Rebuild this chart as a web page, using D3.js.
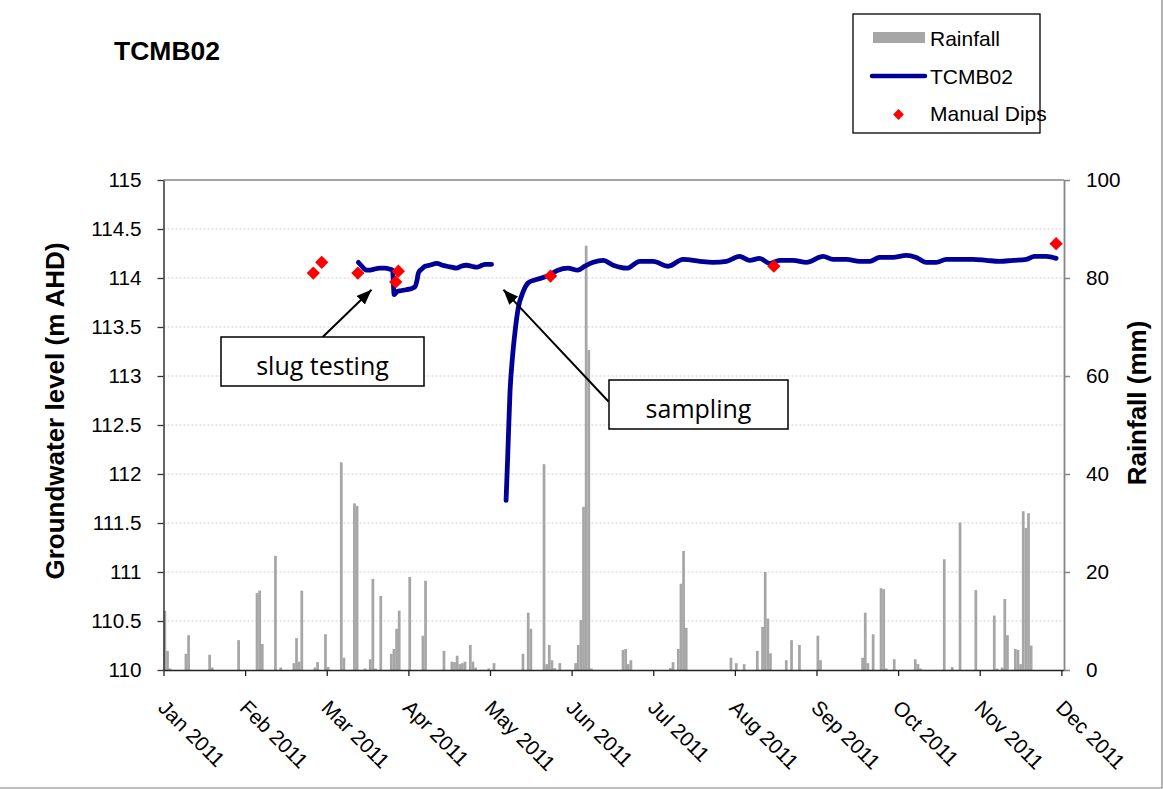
<!DOCTYPE html>
<html>
<head>
<meta charset="utf-8">
<script src="https://cdn.jsdelivr.net/npm/d3@7"></script>
<style>
  body { margin: 0; background: #fff; }
  svg { display: block; font-family: "Liberation Sans", Arial, sans-serif; }
</style>
</head>
<body>
<div id="chart"></div>
<script>

// daily rainfall (day offset from 1 Jan 2011, mm)
var rainDay = [0,1,2,8,9,17,18,28,35,36,37,42,44,49,50,51,52,57,58,61,62,67,68,72,73,76,78,79,80,82,
  86,87,88,89,93,98,99,106,109,110,111,112,113,114,116,117,118,123,125,136,138,139,144,145,146,147,148,150,
  156,157,158,159,160,161,162,174,175,176,177,192,193,195,196,197,198,215,217,220,225,227,228,229,230,
  236,238,241,248,249,265,266,267,269,272,273,274,277,285,286,287,296,299,302,308,315,316,318,319,320,
  323,324,325,326,327,328,329];
var rainMm = [12.1,3.9,0.3,3.3,7.1,3.1,0.5,6.1,15.7,16.2,5.3,23.3,0.5,1.4,6.5,1.7,16.2,0.5,1.6,7.3,0.6,42.4,2.5,34,33.5,0.3,2.2,18.6,0.3,15.1,
  3.3,4.3,8.4,12.1,19,7,18.2,3.9,1.7,1.6,2.9,1.2,1.4,1.7,5.1,1.7,0.5,0.3,1.4,3.3,11.7,8.4,42,1.2,5.1,2.0,0.4,1.4,
  1.4,5.1,10.2,33.3,86.6,65.3,0.3,4.1,4.3,1.2,2.0,0.4,1.6,4.3,17.6,24.3,8.6,2.5,1.4,1.2,3.9,8.8,20,10.5,3.4,
  2.0,6.1,5.1,7.0,2.0,2.5,11.7,1.4,7.3,16.7,16.5,0.3,2.2,2.2,1.2,0.3,22.6,0.6,30.1,16.3,11.1,0.3,0.5,14.5,7.1,
  4.3,4.1,1.2,32.4,29,32,5.0];

// logger record TCMB02, before and after sampling
var level1Day = [74,75,76,77,78,80,82,84,86,87,87.6,88.6,90,92,94,95.5,96.3,96.8,98,99.3,101,103.8,106,107.6,109.5,111.3,113,115.1,117,118.9,121,122.1,124.6];
var level1M = [114.16,114.13,114.10,114.08,114.08,114.09,114.10,114.10,114.09,114.08,113.83,113.86,113.87,113.88,113.89,113.91,113.98,114.05,114.09,114.12,114.13,114.15,114.13,114.12,114.11,114.10,114.12,114.13,114.12,114.11,114.13,114.14,114.14];

var level2Day = [130.1,130.7,131.6,132.5,133.5,134.7,136.6,138.5,141,143.6,146.6,149.8,153.6,157.4,160,163.2,167,170.8,175.9,180.9,
  186,191.7,197.3,203.7,208.7,213.8,218.8,222.6,226.4,230.2,234,239.1,244.2,250.5,254.3,259.4,264.4,268.2,272,277,
  282.1,285.9,289.7,293.5,297.3,302.4,307.4,312.5,317.5,322.6,327.7,330.8,335.3,339];
var level2M = [111.73,112.16,112.84,113.18,113.45,113.69,113.86,113.95,113.98,114.00,114.03,114.08,114.10,114.08,114.12,114.16,114.18,114.13,114.10,114.17,
  114.17,114.12,114.19,114.17,114.16,114.17,114.22,114.18,114.20,114.15,114.18,114.18,114.16,114.22,114.19,114.19,114.17,114.17,114.21,114.21,
  114.23,114.21,114.16,114.16,114.19,114.19,114.19,114.18,114.17,114.18,114.19,114.22,114.22,114.20];

// manual dips
var dipDay = [56.9,60.1,73.8,88.2,89.2,147,231.8,339];
var dipM = [114.05,114.16,114.05,113.96,114.07,114.02,114.12,114.35];

var leftTicks = [110,110.5,111,111.5,112,112.5,113,113.5,114,114.5,115];
var rightTicks = [0,20,40,60,80,100];
var gridTicks = [110.5,111,111.5,112,112.5,113,113.5,114,114.5];
var xTickDays = [0,31,62,93,124,155,186,217,248,279,310,341];

var W = 1163, H = 789;
var plot = { left: 163.5, right: 1064, top: 180, bottom: 670 };

var start = new Date(Date.UTC(2011, 0, 1));
function dayDate(d) { return new Date(start.getTime() + d * 864e5); }

var x = d3.scaleUtc()
    .domain([start, dayDate(342)])
    .range([plot.left, plot.right]);
var yL = d3.scaleLinear().domain([110, 115]).range([plot.bottom, plot.top]);
var yR = d3.scaleLinear().domain([0, 100]).range([plot.bottom, plot.top]);

var svg = d3.select("#chart").append("svg")
    .attr("width", W)
    .attr("height", H);

// chart area border (right / bottom edge of the crop)
svg.append("path")
    .attr("d", "M" + (W - 1) + ",0V" + (H - 1) + "H0")
    .attr("fill", "none").attr("stroke", "#7f7f7f").attr("stroke-width", 1.2);

// title
svg.append("text")
    .attr("x", 114).attr("y", 60)
    .attr("font-size", 26.5).attr("font-weight", "bold")
    .text("TCMB02");

// gridlines
svg.append("g").selectAll("line")
    .data(gridTicks)
    .enter().append("line")
    .attr("x1", plot.left).attr("x2", plot.right)
    .attr("y1", function (d) { return yL(d); })
    .attr("y2", function (d) { return yL(d); })
    .attr("stroke", "#cfcfcf").attr("stroke-width", 1)
    .attr("stroke-dasharray", "2,2");

// top border of the plot area
svg.append("line")
    .attr("x1", plot.left).attr("x2", plot.right)
    .attr("y1", plot.top).attr("y2", plot.top)
    .attr("stroke", "#868686").attr("stroke-width", 1.5);

// rainfall bars
var rain = rainDay.map(function (d, i) { return { day: d, mm: rainMm[i] }; });
svg.append("g").selectAll("rect")
    .data(rain)
    .enter().append("rect")
    .attr("x", function (d) { return x(dayDate(d.day)); })
    .attr("width", function (d) { return x(dayDate(d.day + 1)) - x(dayDate(d.day)) + 0.1; })
    .attr("y", function (d) { return yR(d.mm); })
    .attr("height", function (d) { return yR(0) - yR(d.mm); })
    .attr("fill", "#a6a6a6");

// groundwater level line
var line = d3.line()
    .x(function (d) { return x(dayDate(d[0])); })
    .y(function (d) { return yL(d[1]); })
    .curve(d3.curveMonotoneX);

[[level1Day, level1M], [level2Day, level2M]].forEach(function (s) {
  svg.append("path")
      .datum(s[0].map(function (d, i) { return [d, s[1][i]]; }))
      .attr("d", line)
      .attr("fill", "none")
      .attr("stroke", "#000099")
      .attr("stroke-width", 4.8)
      .attr("stroke-linecap", "round")
      .attr("stroke-linejoin", "round");
});

// manual dips (red diamonds)
var diamond = d3.symbol().type(d3.symbolSquare).size(88);
svg.append("g").selectAll("path")
    .data(dipDay.map(function (d, i) { return [d, dipM[i]]; }))
    .enter().append("path")
    .attr("d", diamond)
    .attr("transform", function (d) { return "translate(" + x(dayDate(d[0])) + "," + yL(d[1]) + ") rotate(45)"; })
    .attr("fill", "#ff0000");

// axes
var fmt = d3.utcFormat("%b %Y");
var xAxis = d3.axisBottom(x)
    .tickValues(xTickDays.map(dayDate))
    .tickFormat(fmt)
    .tickSize(6).tickSizeOuter(0);
var gx = svg.append("g")
    .attr("transform", "translate(0," + plot.bottom + ")")
    .call(xAxis);
gx.select(".domain").attr("stroke", "#222").attr("stroke-width", 1.5);
gx.selectAll(".tick line").attr("stroke", "#222").attr("stroke-width", 1.3);
gx.selectAll("text")
    .attr("x", 0).attr("y", 0).attr("dy", null)
    .attr("text-anchor", "start")
    .attr("transform", "translate(-7,39) rotate(45)")
    .attr("font-size", 20.7)
    .attr("font-family", "Liberation Sans, Arial, sans-serif")
    .attr("fill", "#000");

var yAxisL = d3.axisLeft(yL)
    .tickValues(leftTicks)
    .tickFormat(function (d) { return d; })
    .tickSize(6).tickSizeOuter(0).tickPadding(16);
var gyl = svg.append("g")
    .attr("transform", "translate(" + plot.left + ",0)")
    .call(yAxisL);
gyl.select(".domain").attr("stroke", "#333").attr("stroke-width", 1.5);
gyl.selectAll(".tick line").attr("stroke", "#333").attr("stroke-width", 1.3);
gyl.selectAll("text")
    .attr("font-size", 20.7)
    .attr("font-family", "Liberation Sans, Arial, sans-serif")
    .attr("fill", "#000");

var yAxisR = d3.axisRight(yR)
    .tickValues(rightTicks)
    .tickSize(6).tickSizeOuter(0).tickPadding(16);
var gyr = svg.append("g")
    .attr("transform", "translate(" + plot.right + ",0)")
    .call(yAxisR);
gyr.select(".domain").attr("stroke", "#868686").attr("stroke-width", 1.8);
gyr.selectAll(".tick line").attr("stroke", "#868686").attr("stroke-width", 1.5);
gyr.selectAll("text")
    .attr("font-size", 20.7)
    .attr("font-family", "Liberation Sans, Arial, sans-serif")
    .attr("fill", "#000");

// axis titles
svg.append("text")
    .attr("transform", "translate(64,411) rotate(-90)")
    .attr("text-anchor", "middle")
    .attr("font-size", 26).attr("font-weight", "bold")
    .text("Groundwater level (m AHD)");

svg.append("text")
    .attr("transform", "translate(1146,403) rotate(-90)")
    .attr("text-anchor", "middle")
    .attr("font-size", 26).attr("font-weight", "bold")
    .text("Rainfall (mm)");

// annotations
svg.append("defs").append("marker")
    .attr("id", "arrow")
    .attr("viewBox", "0 0 15 12")
    .attr("refX", 15).attr("refY", 6)
    .attr("markerUnits", "userSpaceOnUse")
    .attr("markerWidth", 15).attr("markerHeight", 12)
    .attr("orient", "auto")
    .append("path")
    .attr("d", "M0,0L15,6L0,12Z")
    .attr("fill", "#000");

var notes = [
  { text: "slug testing", box: [221, 337, 203, 49], from: [322.7, 337], tipDay: 79, tipM: 113.88 },
  { text: "sampling", box: [609, 380, 179, 49], from: [608.5, 401.5], tipDay: 129.1, tipM: 113.88 }
];
notes.forEach(function (n) {
  svg.append("line")
      .attr("x1", n.from[0]).attr("y1", n.from[1])
      .attr("x2", x(dayDate(n.tipDay))).attr("y2", yL(n.tipM))
      .attr("stroke", "#000").attr("stroke-width", 2)
      .attr("marker-end", "url(#arrow)");
  svg.append("rect")
      .attr("x", n.box[0]).attr("y", n.box[1])
      .attr("width", n.box[2]).attr("height", n.box[3])
      .attr("fill", "#fff").attr("stroke", "#000").attr("stroke-width", 1.5);
  svg.append("text")
      .attr("x", n.box[0] + n.box[2] / 2).attr("y", n.box[1] + 37.5)
      .attr("text-anchor", "middle")
      .attr("font-family", "Open Sans, sans-serif")
      .attr("font-size", 25)
      .text(n.text);
});

// legend
var lg = svg.append("g");
lg.append("rect")
    .attr("x", 853).attr("y", 14).attr("width", 187).attr("height", 119)
    .attr("fill", "#fff").attr("stroke", "#000").attr("stroke-width", 1.3);
lg.append("rect")
    .attr("x", 873).attr("y", 32).attr("width", 52).attr("height", 11)
    .attr("fill", "#a6a6a6");
lg.append("line")
    .attr("x1", 872).attr("x2", 925).attr("y1", 76).attr("y2", 76)
    .attr("stroke", "#000099").attr("stroke-width", 4.5).attr("stroke-linecap", "round");
lg.append("path")
    .attr("d", d3.symbol().type(d3.symbolSquare).size(58))
    .attr("transform", "translate(898.5,114.5) rotate(45)")
    .attr("fill", "#ff0000");
lg.selectAll("text.item")
    .data(["Rainfall", "TCMB02", "Manual Dips"])
    .enter().append("text")
    .attr("class", "item")
    .attr("x", 930)
    .attr("y", function (d, i) { return 46 + i * 37.5; })
    .attr("font-size", 21)
    .text(function (d) { return d; });

</script>
</body>
</html>
